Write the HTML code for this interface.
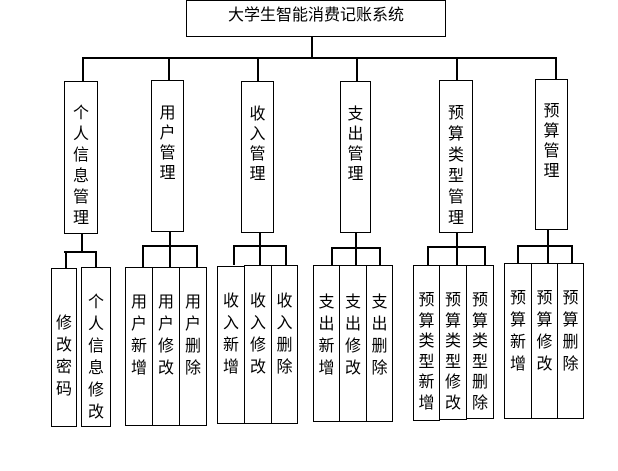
<!DOCTYPE html>
<html><head><meta charset="utf-8"><style>
body{margin:0;width:618px;height:471px;background:#fff;position:relative;overflow:hidden;font-family:"Liberation Sans","Noto Sans CJK SC","WenQuanYi Zen Hei",sans-serif;color:#000}
.b{position:absolute;border:1.5px solid #000;box-sizing:border-box;background:#fff}
.t{position:absolute;left:0;right:0;text-align:center;font-size:16px}
.l{position:absolute;background:#000}
</style></head><body>
<!-- top -->
<div class="b" style="left:186px;top:0;width:260px;height:37px"><div class="t" style="top:5px;line-height:20px">大学生智能消费记账系统</div></div>
<div class="l" style="left:311px;top:36px;width:1.5px;height:22px"></div>
<div class="l" style="left:82px;top:57px;width:474px;height:1.5px"></div>
<div class="l" style="left:82px;top:57px;width:1.5px;height:24px"></div>
<div class="l" style="left:168px;top:57px;width:1.5px;height:24px"></div>
<div class="l" style="left:257px;top:57px;width:1.5px;height:24px"></div>
<div class="l" style="left:356px;top:57px;width:1.5px;height:24px"></div>
<div class="l" style="left:456px;top:57px;width:1.5px;height:24px"></div>
<div class="l" style="left:555px;top:57px;width:1.5px;height:24px"></div>

<div class="b" style="left:64px;top:81px;width:34px;height:153px"><div class="t" style="top:21px;line-height:21px">个<br>人<br>信<br>息<br>管<br>理</div></div>
<div class="b" style="left:151px;top:80px;width:33px;height:152px"><div class="t" style="top:23px;line-height:20px">用<br>户<br>管<br>理</div></div>
<div class="b" style="left:241px;top:81px;width:33px;height:152px"><div class="t" style="top:23px;line-height:20px">收<br>入<br>管<br>理</div></div>
<div class="b" style="left:340px;top:81px;width:31px;height:152px"><div class="t" style="top:23px;line-height:20px">支<br>出<br>管<br>理</div></div>
<div class="b" style="left:439px;top:80px;width:34px;height:153px"><div class="t" style="top:22px;line-height:21px">预<br>算<br>类<br>型<br>管<br>理</div></div>
<div class="b" style="left:535px;top:79px;width:33px;height:151px"><div class="t" style="top:22px;line-height:20px">预<br>算<br>管<br>理</div></div>

<!-- group1 -->
<div class="l" style="left:81px;top:233px;width:1.5px;height:19px"></div>
<div class="l" style="left:64px;top:251px;width:32px;height:1.5px"></div>
<div class="l" style="left:65px;top:251px;width:1.5px;height:17px"></div>
<div class="l" style="left:95px;top:251px;width:1.5px;height:17px"></div>
<div class="b" style="left:51px;top:268px;width:26px;height:159px"><div class="t" style="top:44px;line-height:22px">修<br>改<br>密<br>码</div></div>
<div class="b" style="left:81px;top:267px;width:30px;height:160px"><div class="t" style="top:24px;line-height:22px">个<br>人<br>信<br>息<br>修<br>改</div></div>

<!-- group2 -->
<div class="l" style="left:169px;top:231px;width:1.5px;height:36px"></div>
<div class="l" style="left:142px;top:245px;width:55px;height:1.5px"></div>
<div class="l" style="left:142px;top:245px;width:1.5px;height:22px"></div>
<div class="l" style="left:196px;top:245px;width:1.5px;height:22px"></div>
<div class="b" style="left:125px;top:267px;width:28px;height:159px"><div class="t" style="top:24px;line-height:22px">用<br>户<br>新<br>增</div></div>
<div class="b" style="left:152px;top:267px;width:28px;height:159px"><div class="t" style="top:24px;line-height:22px">用<br>户<br>修<br>改</div></div>
<div class="b" style="left:179px;top:267px;width:28px;height:159px"><div class="t" style="top:24px;line-height:22px">用<br>户<br>删<br>除</div></div>

<!-- group3 -->
<div class="l" style="left:259px;top:232px;width:1.5px;height:33px"></div>
<div class="l" style="left:233px;top:245px;width:53px;height:1.5px"></div>
<div class="l" style="left:233px;top:245px;width:1.5px;height:20px"></div>
<div class="l" style="left:285px;top:245px;width:1.5px;height:20px"></div>
<div class="b" style="left:217px;top:266px;width:28px;height:158px"><div class="t" style="top:24px;line-height:22px">收<br>入<br>新<br>增</div></div>
<div class="b" style="left:244px;top:265px;width:28px;height:159px"><div class="t" style="top:25px;line-height:22px">收<br>入<br>修<br>改</div></div>
<div class="b" style="left:271px;top:265px;width:27px;height:159px"><div class="t" style="top:25px;line-height:22px">收<br>入<br>删<br>除</div></div>

<!-- group4 -->
<div class="l" style="left:355px;top:232px;width:1.5px;height:33px"></div>
<div class="l" style="left:331px;top:247px;width:49px;height:1.5px"></div>
<div class="l" style="left:331px;top:247px;width:1.5px;height:18px"></div>
<div class="l" style="left:379px;top:247px;width:1.5px;height:18px"></div>
<div class="b" style="left:313px;top:265px;width:27px;height:157px"><div class="t" style="top:26px;line-height:22px">支<br>出<br>新<br>增</div></div>
<div class="b" style="left:339px;top:265px;width:28px;height:157px"><div class="t" style="top:26px;line-height:22px">支<br>出<br>修<br>改</div></div>
<div class="b" style="left:366px;top:265px;width:27px;height:157px"><div class="t" style="top:26px;line-height:22px">支<br>出<br>删<br>除</div></div>

<!-- group5 -->
<div class="l" style="left:456px;top:232px;width:1.5px;height:33px"></div>
<div class="l" style="left:427px;top:246px;width:58px;height:1.5px"></div>
<div class="l" style="left:427px;top:246px;width:1.5px;height:19px"></div>
<div class="l" style="left:484px;top:246px;width:1.5px;height:19px"></div>
<div class="b" style="left:413px;top:265px;width:27px;height:156px"><div class="t" style="top:25px;line-height:20.5px">预<br>算<br>类<br>型<br>新<br>增</div></div>
<div class="b" style="left:439px;top:265px;width:28px;height:155px"><div class="t" style="top:25px;line-height:20.5px">预<br>算<br>类<br>型<br>修<br>改</div></div>
<div class="b" style="left:466px;top:265px;width:28px;height:154px"><div class="t" style="top:25px;line-height:20.5px">预<br>算<br>类<br>型<br>删<br>除</div></div>

<!-- group6 -->
<div class="l" style="left:547px;top:229px;width:1.5px;height:34px"></div>
<div class="l" style="left:517px;top:245px;width:55px;height:1.5px"></div>
<div class="l" style="left:517px;top:245px;width:1.5px;height:18px"></div>
<div class="l" style="left:571px;top:245px;width:1.5px;height:18px"></div>
<div class="b" style="left:504px;top:263px;width:28px;height:156px"><div class="t" style="top:24px;line-height:22px">预<br>算<br>新<br>增</div></div>
<div class="b" style="left:531px;top:263px;width:27px;height:156px"><div class="t" style="top:24px;line-height:22px">预<br>算<br>修<br>改</div></div>
<div class="b" style="left:557px;top:263px;width:27px;height:156px"><div class="t" style="top:24px;line-height:22px">预<br>算<br>删<br>除</div></div>
</body></html>
